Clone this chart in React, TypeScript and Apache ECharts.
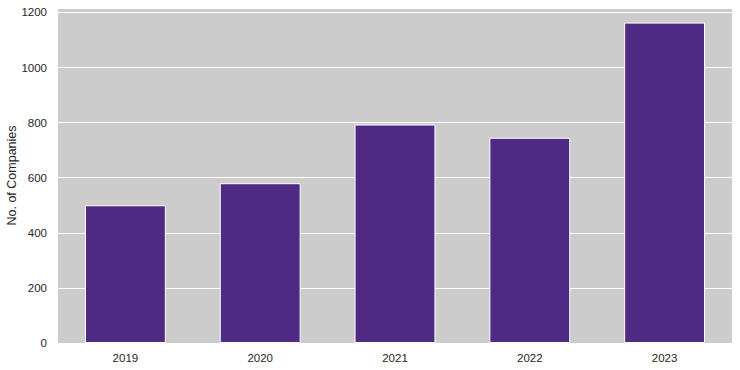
import React, { useEffect, useRef } from "react";
import * as echarts from "echarts";

const categories = ["2019", "2020", "2021", "2022", "2023"];
const companies = [500, 580, 793, 745, 1163];
const yTicks = [0, 200, 400, 600, 800, 1000, 1200];

export default function App() {
  const ref = useRef<HTMLDivElement>(null);
  useEffect(() => {
    if (!ref.current) return;
    const chart = echarts.init(ref.current, null, { renderer: "svg" });
    chart.setOption({
      animation: false,
      backgroundColor: "#ffffff",
      textStyle: { fontFamily: "Liberation Sans, Arial, sans-serif" },
      grid: {
        left: 58,
        right: 8,
        top: 8,
        bottom: 27,
        containLabel: false,
        outerBoundsMode: "none",
        show: true,
        backgroundColor: "#cccccc",
        borderWidth: 0,
      },
      xAxis: {
        type: "category",
        data: categories,
        boundaryGap: true,
        axisLine: { show: false },
        axisTick: { show: false },
        splitLine: { show: false },
        axisLabel: { color: "#262626", fontSize: 11.5, margin: 9 },
      },
      yAxis: {
        type: "value",
        min: 0,
        max: 1216,
        interval: 200,
        name: "No. of Companies",
        nameLocation: "middle",
        nameGap: 40,
        nameMoveOverlap: false,
        nameTextStyle: { color: "#262626", fontSize: 12.5 },
        axisLine: { show: false },
        axisTick: { show: false },
        axisLabel: {
          color: "#262626",
          fontSize: 11.5,
          margin: 11,
          formatter: (v: number) => (yTicks.includes(v) ? String(v) : ""),
        },
        splitLine: { show: true, lineStyle: { color: "#ffffff", width: 1 } },
      },
      series: [
        {
          type: "bar",
          data: companies,
          barWidth: "60%",
          itemStyle: {
            color: "#4e2a84",
            borderColor: "#ffffff",
            borderWidth: 1,
          },
        },
      ],
    });
    return () => chart.dispose();
  }, []);
  return <div ref={ref} style={{ width: 740, height: 370, position: "absolute", left: 0, top: 0 }} />;
}
